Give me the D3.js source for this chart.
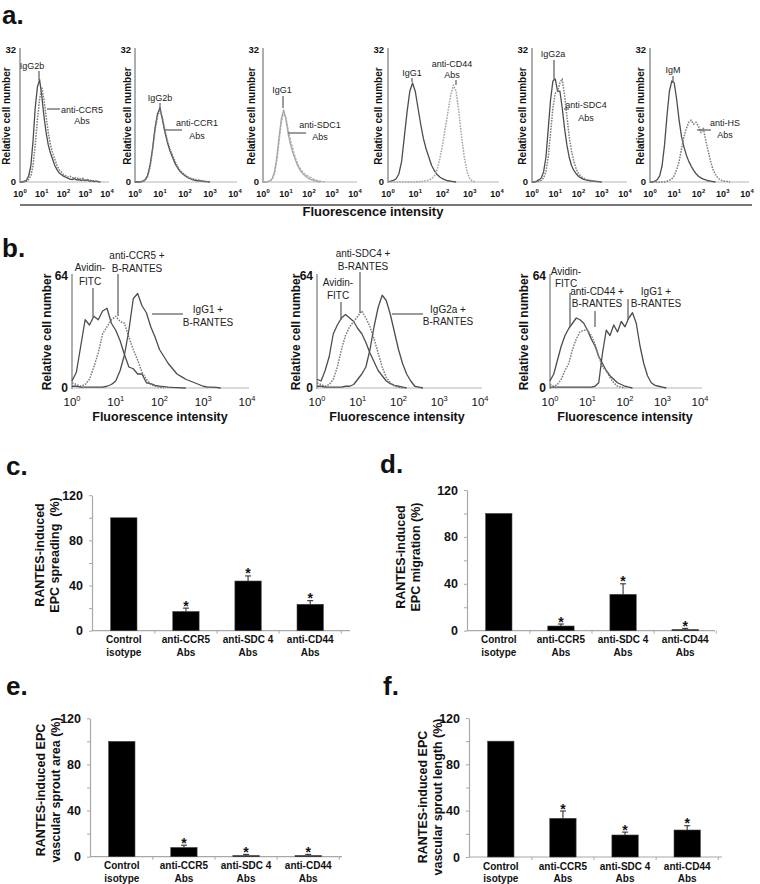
<!DOCTYPE html>
<html><head><meta charset="utf-8">
<script src="https://cdn.jsdelivr.net/npm/d3@7"></script>
<style>
body{margin:0;background:#fff}
svg{display:block;font-family:Arial,"Liberation Sans",Helvetica,sans-serif}
</style>
</head><body>
<svg id="fig" width="760" height="884"></svg>
<script>
// ---------- DATA ----------
// log10 fluorescence bins (10^0 .. 10^4)
const logBins = [0,0.1,0.2,0.3,0.4,0.5,0.6,0.7,0.8,0.9,1,1.1,1.2,1.3,1.4,1.5,1.6,1.7,1.8,1.9,2,2.1,2.2,2.3,2.4,2.5,2.6,2.7,2.8,2.9,3,3.1,3.2,3.3,3.4,3.5,3.6,3.7,3.8,3.9,4];
const decadeTicks = [0,1,2,3,4];

// panel a: relative cell number (max 32)
const a1Iso = [0,0,0.2,0.4,1.5,4,10,18,23,24.8,21,16,12,9,7,5.5,4,3,2.2,1.8,1.4,1.2,0.9,0.7,0.6,0.8,0.5,0.6,0.4,0.5,0.3,0.5,0.2,0.3,0.1,0.2,0.1,0];
const a1Ab  = [0,0,0,0.2,0.6,1.5,4,9,15,20,23,20,16,12,9,7,5.5,4,3,2.4,1.8,1.5,1.2,1.4,1,1.2,0.8,1,0.7,0.9,0.5,0.6,0.4,0.3,0.3,0.2,0.1,0];
const a2Iso = [0,0,0,0.2,0.5,1.5,4,8,13,16.5,18,15,12,9.5,7.5,6,4.5,3.5,2.6,2,1.5,1.1,0.8,0.6,0.4,0.3,0.3,0.2,0.1,0.1,0];
const a2Ab  = [0,0,0,0.1,0.4,1.2,3.5,7.5,12.5,16,17.5,15.5,12.5,10,8,6.5,5,3.8,2.8,2.2,1.7,1.3,1,0.8,0.6,0.5,0.4,0.3,0.2,0.1,0];
const a3Iso = [0,0,0.1,0.3,0.8,2.5,6,11,15.5,17.5,15,11.5,9,7,5.5,4,3,2.2,1.6,1.2,0.8,0.6,0.4,0.2,0.1,0];
const a3Ab  = [0,0,0.1,0.2,0.6,2,5,10,14.5,17,15.5,12.5,10,8,6,4.5,3.4,2.6,2,1.6,1.3,1,0.7,0.5,0.3,0.2,0.1,0];
const a4Iso = [0,0.2,0.4,0.8,2,5,11,17,22,24,22,18,14,10.5,8,6,4,2.8,1.8,1.2,0.8,0.5,0.3,0.2,0.1,0];
const a4Ab  = [0,0,0,0,0,0,0,0,0,0,0,0.1,0.1,0.2,0.3,0.5,0.8,1.5,3,5.5,9,13,17,21,23.5,22,17,11,6,2.5,0.8,0.2,0];
const a5Iso = [0,0,0.2,0.5,1,2.5,6,13,20,24.5,25,22,22,18,13,9,6,4,2.8,2,1.4,1,0.7,0.5,0.4,0.3,0.2,0.2,0.1,0.1,0];
const a5Ab  = [0,0,0,0.2,0.4,1,2.5,6,12,18,21.5,22,24,25,21,16,11,7.5,5,3.2,2,1.4,1,0.7,0.5,0.4,0.3,0.2,0.1,0.1,0];
const a6Iso = [0,0,0.2,0.6,1.5,4,9,16,22,24.5,24,20,15,11,8.5,6.5,5,3.8,2.8,2,1.4,1,0.7,0.5,0.3,0.2,0.1,0];
const a6Ab  = [0,0,0,0,0,0,0,0.2,0.4,0.8,1.5,3,5,8,11,13,14.5,15,14,14.5,13.5,12,13,10,7.5,5,3,1.8,1,0.5,0.3,0.2,0.1,0];

// panel b: relative cell number (max 64)
const b1Avidin = [4,9,24,39,36,41,39,44,45.6,37,33,27,19,12,11,8,8,3,2.5,1.5,1,0.8,0.5,0.3,0.2,0.1,0];
const b1Ab     = [3,2,1,2,5,12,20,31,35,39,41,38,37,29,22,16,9,5,2,1,0.5,0];
const b1IgG    = [1,1,0.5,0.5,0.5,0.5,0.5,0.5,1,2,4,10,19,33,51,54,47,43,35,29,22,18,14,11,8,6.5,5,4,3,2,1,0.5,0.5,0.3,0];
const b2Avidin = [5,4,10,18,31,36,40,42,40,38,34,31,26,20,15,10,7,4,2.5,1.5,1,0.5,0];
const b2Ab     = [3,2,1,2,5,12,22,30,35,38,41,44,40,35,28,20,12,6,3,1,0.5,0];
const b2IgG    = [1,1,0.5,0.5,0.5,0.5,0.5,1,1,2,5,8,12,22,35,46,53,50,42,32,22,14,8,4,1,0.5,0];
const b3Avidin = [4,8,16,24,30,34,37,40,39,37,33,28,24,18,14,10,7,5,3,2,1,0.5,0];
const b3Ab     = [2,1,2,5,10,14,22,28,32,33,33,30,25,18,12,10,6,3,1,0.5,0];
const b3IgG    = [0.5,0.5,0.5,0.5,0.5,0.5,0.5,0.5,0.5,0.5,0.5,0.5,1,3,20,33,30,36,32,38,35,40,43,37,24,14,7,3,1.5,1,0.5,0];

// panels c-f
const catLine1 = ["Control","anti-CCR5","anti-SDC 4","anti-CD44"];
const catLine2 = ["isotype","Abs","Abs","Abs"];
const barTicks = [0,20,40,60,80,100,120];
const barTickLabels = [0,40,80,120];
const spreading    = [100,17,44,23.4];
const spreadingErr = [0,3,4.5,3.2];
const migration    = [100,4,31,1];
const migrationErr = [0,1.7,9,1];
const sproutArea   = [100,8,1,1];
const sproutAreaErr= [0,2,1,1];
const sproutLen    = [100,33.4,19,23.3];
const sproutLenErr = [0,6.3,2.5,3.7];

// ---------- DRAWING ----------
const svg = d3.select("#fig");
const FONT = 'Arial,"Liberation Sans",Helvetica,sans-serif';

function panelLabel(t,x,y){
  svg.append("text").attr("x",x).attr("y",y).attr("font-size",26).attr("font-weight","bold").attr("fill","#111").text(t);
}

function multiText(g, lines, x, y, lh, size, weight, anchor){
  const t = g.append("text").attr("x",x).attr("y",y).attr("font-size",size)
    .attr("font-weight",weight||"normal").attr("text-anchor",anchor||"middle").attr("fill","#222");
  lines.forEach((l,i)=>t.append("tspan").attr("x",x).attr("dy", i===0?0:lh).text(l));
  return t;
}

function histPanel(cfg){
  const g = svg.append("g");
  const x = d3.scaleLinear().domain([0,4]).range([cfg.x0,cfg.x4]);
  const y = d3.scaleLinear().domain([0,cfg.ymax]).range([cfg.yBot,cfg.yTop]);
  g.append("line").attr("x1",cfg.x0).attr("x2",cfg.x4+2).attr("y1",cfg.yBot).attr("y2",cfg.yBot)
    .attr("stroke","#b5b5b5").attr("stroke-width",1.2);
  g.append("line").attr("x1",cfg.x0).attr("x2",cfg.x0).attr("y1",cfg.yTop-2).attr("y2",cfg.yBot+1)
    .attr("stroke","#9a9a9a").attr("stroke-width",1.6);
  const line = d3.line().x(d=>x(d[0])).y(d=>y(d[1]));
  cfg.curves.forEach(c=>{
    const n = Math.min(c.values.length, logBins.length);
    const pts = [];
    for(let i=0;i<n;i++) pts.push([logBins[i], c.values[i]]);
    g.append("path").datum(pts).attr("d",line).attr("fill","none")
      .attr("stroke",c.color).attr("stroke-width",c.width||1.3)
      .attr("stroke-dasharray",c.dash||null).attr("stroke-linejoin","round");
  });
  g.append("text").attr("x",cfg.x0-4).attr("y",y(cfg.ymax)+cfg.yLabSize*0.35).attr("text-anchor","end")
    .attr("font-size",cfg.yLabSize).attr("font-weight","bold").attr("fill","#111").text(cfg.ymax);
  g.append("text").attr("x",cfg.x0-4).attr("y",y(0)+cfg.yLabSize*0.35).attr("text-anchor","end")
    .attr("font-size",cfg.yLabSize).attr("font-weight","bold").attr("fill","#111").text(0);
  decadeTicks.forEach(t=>{
    const tx = g.append("text").attr("x",x(t)).attr("y",cfg.tickY).attr("text-anchor","middle")
      .attr("font-size",cfg.tickSize).attr("font-weight",cfg.tickWeight).attr("fill","#111");
    tx.append("tspan").text("10");
    tx.append("tspan").attr("dy",-cfg.tickSize*0.45).attr("font-size",cfg.tickSize*0.65).text(t);
  });
  g.append("text").attr("transform",`translate(${cfg.titleX},${(cfg.yTop+cfg.yBot)/2}) rotate(-90)`)
    .attr("text-anchor","middle").attr("font-size",cfg.titleSize).attr("font-weight","bold").attr("fill","#111")
    .text("Relative cell number");
  if(cfg.xTitle){
    g.append("text").attr("x",cfg.xTitleX).attr("y",cfg.xTitleY).attr("text-anchor","middle")
      .attr("font-size",12.5).attr("font-weight","bold").attr("fill","#111").text("Fluorescence intensity");
  }
  (cfg.notes||[]).forEach(nt=>{
    multiText(g, nt.t, nt.x, nt.y, nt.lh||cfg.noteLH, cfg.noteSize, "normal", nt.anchor||"middle");
    if(nt.l) g.append("line").attr("x1",nt.l[0]).attr("y1",nt.l[1]).attr("x2",nt.l[2]).attr("y2",nt.l[3])
      .attr("stroke","#666").attr("stroke-width",1.3);
  });
}

const SOLID = "#4d4d4d", DOT = "#7d7d7d", LIGHT = "#a9a9a9";
const dotDash = "1.6,1.2";

// ---- Panel a ----
panelLabel("a.",2,24);
const aCommon = {yTop:50,yBot:182,ymax:32,yLabSize:9.5,tickY:197,tickSize:9,tickWeight:"bold",titleSize:10,noteSize:9,noteLH:12};
const aPlots = [
  {x0:20,x4:107,titleX:10,curves:[{values:a1Iso,color:SOLID},{values:a1Ab,color:DOT,dash:dotDash,width:1.5}],
   notes:[{t:["IgG2b"],x:32,y:69,l:[39,71,39,80]},{t:["anti-CCR5","Abs"],x:82,y:113,lh:11,l:[47,109,60,109]}]},
  {x0:135,x4:235,titleX:131,curves:[{values:a2Iso,color:SOLID},{values:a2Ab,color:DOT,dash:dotDash,width:1.5}],
   notes:[{t:["IgG2b"],x:160,y:101,l:[160,103,160,110]},{t:["anti-CCR1","Abs"],x:197,y:126,lh:13,l:[165,130,182,130]}]},
  {x0:263,x4:355,titleX:255,curves:[{values:a3Iso,color:LIGHT},{values:a3Ab,color:LIGHT,dash:"2.5,1",width:1.3}],
   notes:[{t:["IgG1"],x:282,y:93,l:[283,96,283,108]},{t:["anti-SDC1","Abs"],x:320,y:128,lh:12,l:[288,133,306,133]}]},
  {x0:388,x4:497,titleX:382,curves:[{values:a4Iso,color:SOLID},{values:a4Ab,color:LIGHT,dash:dotDash,width:1.6}],
   notes:[{t:["IgG1"],x:412,y:76,l:[412,78,412,82]},{t:["anti-CD44","Abs"],x:452,y:67,lh:11,l:[456,80,456,85]}]},
  {x0:532,x4:625,titleX:526,curves:[{values:a5Iso,color:SOLID},{values:a5Ab,color:DOT,dash:dotDash,width:1.5}],
   notes:[{t:["IgG2a"],x:553,y:57,l:[554,60,554,80]},{t:["anti-SDC4","Abs"],x:586,y:108,lh:13,l:[564,109,569,109]}]},
  {x0:650,x4:747,titleX:644,curves:[{values:a6Iso,color:SOLID},{values:a6Ab,color:DOT,dash:dotDash,width:1.5}],
   notes:[{t:["IgM"],x:673,y:73,l:[673,76,673,83]},{t:["anti-HS","Abs"],x:725,y:126,lh:12,l:[697,130,711,130]}]}
];
aPlots.forEach(p=>histPanel(Object.assign({},aCommon,p)));
svg.append("line").attr("x1",20).attr("x2",752).attr("y1",205).attr("y2",205).attr("stroke","#777").attr("stroke-width",2);
svg.append("text").attr("x",373).attr("y",216).attr("text-anchor","middle").attr("font-size",13)
  .attr("font-weight","bold").attr("fill","#111").text("Fluorescence intensity");

// ---- Panel b ----
panelLabel("b.",2,257);
const bCommon = {yTop:276,yBot:388,ymax:64,yLabSize:12,tickY:406,tickSize:11.5,tickWeight:"normal",titleSize:12,noteSize:10,noteLH:12.5,xTitle:true,xTitleY:421};
const bPlots = [
  {x0:72,x4:247,titleX:51,xTitleX:160,
   curves:[{values:b1Avidin,color:SOLID},{values:b1Ab,color:DOT,dash:dotDash,width:1.5},{values:b1IgG,color:SOLID}],
   notes:[{t:["Avidin-","FITC"],x:90,y:271,lh:14,l:[93,288,93,317]},
          {t:["anti-CCR5 +","B-RANTES"],x:137,y:259,l:[118,274,118,316]},
          {t:["IgG1 +","B-RANTES"],x:208,y:313,l:[152,314,183,314]}]},
  {x0:317,x4:480,titleX:300,xTitleX:397,
   curves:[{values:b2Avidin,color:SOLID},{values:b2Ab,color:DOT,dash:dotDash,width:1.5},{values:b2IgG,color:SOLID}],
   notes:[{t:["anti-SDC4 +","B-RANTES"],x:363,y:257,l:[360,272,360,313]},
          {t:["Avidin-","FITC"],x:338,y:286,l:[341,302,341,320]},
          {t:["IgG2a +","B-RANTES"],x:448,y:313,lh:11.5,l:[392,314,423,314]}]},
  {x0:550,x4:700,titleX:528,xTitleX:625,
   curves:[{values:b3Avidin,color:SOLID},{values:b3Ab,color:DOT,dash:dotDash,width:1.5},{values:b3IgG,color:SOLID}],
   notes:[{t:["Avidin-","FITC"],x:566,y:275,lh:12,l:[570,293,570,327]},
          {t:["anti-CD44 +","B-RANTES"],x:597,y:295,lh:12,l:[595,311,595,327]},
          {t:["IgG1 +","B-RANTES"],x:656,y:295,lh:12,l:[628,299,628,320]}]}
];
bPlots.forEach(p=>histPanel(Object.assign({},bCommon,p)));

// ---- Bar panels ----
function barPanel(cfg, means, errs){
  const g = svg.append("g");
  const x = d3.scaleBand().domain(catLine1).range([cfg.ax, cfg.ax+250]).paddingInner(0.576).paddingOuter(0.3);
  const y = d3.scaleLinear().domain([0,120]).range([cfg.y0, cfg.y120]);
  g.append("line").attr("x1",cfg.ax).attr("x2",cfg.axEnd).attr("y1",y(0)).attr("y2",y(0)).attr("stroke","#a8a8a8").attr("stroke-width",1.2);
  const step = x.step();
  for(let i=1;i<=4;i++){
    const tx = x(catLine1[0]) + x.bandwidth()/2 + step*(i-0.5);
    g.append("line").attr("x1",tx).attr("x2",tx).attr("y1",y(0)).attr("y2",y(0)+3).attr("stroke","#a8a8a8");
  }
  const ya = g.append("g").attr("transform",`translate(${cfg.ax},0)`)
    .call(d3.axisLeft(y).tickValues(barTicks).tickSizeInner(3).tickSizeOuter(0).tickPadding(6)
      .tickFormat(d=>barTickLabels.includes(d)?d:""));
  ya.attr("font-family",FONT);
  ya.select(".domain").attr("stroke","#a8a8a8").attr("stroke-width",1.2);
  ya.selectAll(".tick line").attr("stroke","#a8a8a8");
  ya.selectAll(".tick text").attr("font-size",12.5).attr("font-weight","bold").attr("fill","#111");
  g.selectAll("rect.bar").data(catLine1).enter().append("rect")
    .attr("x",d=>x(d)).attr("width",x.bandwidth())
    .attr("y",(d,i)=>y(means[i])).attr("height",(d,i)=>y(0)-y(means[i]))
    .attr("fill","#000").attr("stroke","#444").attr("stroke-width",0.6);
  catLine1.forEach((d,i)=>{
    const cx = x(d)+x.bandwidth()/2;
    const top = y(means[i]+errs[i]);
    if(errs[i]>0){
      g.append("line").attr("x1",cx).attr("x2",cx).attr("y1",y(means[i])).attr("y2",top).attr("stroke","#333").attr("stroke-width",1.1);
      g.append("line").attr("x1",cx-3).attr("x2",cx+3).attr("y1",top).attr("y2",top).attr("stroke","#333").attr("stroke-width",1.1);
    }
    if(i>0){
      g.append("text").attr("x",cx).attr("y",top+2.5).attr("text-anchor","middle").attr("font-size",14)
        .attr("font-weight","bold").attr("fill","#111").text("*");
    }
    g.append("text").attr("x",cx).attr("y",y(0)+12.5).attr("text-anchor","middle").attr("font-size",10)
      .attr("font-weight","bold").attr("fill","#111").text(catLine1[i]);
    g.append("text").attr("x",cx).attr("y",y(0)+25).attr("text-anchor","middle").attr("font-size",10)
      .attr("font-weight","bold").attr("fill","#111").text(catLine2[i]);
  });
  cfg.title.forEach((t,i)=>{
    g.append("text").attr("transform",`translate(${cfg.titleX[i]},${cfg.titleY}) rotate(-90)`)
      .attr("text-anchor","middle").attr("font-size",12.5).attr("font-weight","bold").attr("fill","#111").text(t);
  });
}

panelLabel("c.",6,475);
barPanel({ax:92,axEnd:350,y0:630.7,y120:495.2,title:["RANTES-induced","EPC spreading\u00a0 (%)"],titleX:[44,59],titleY:555},spreading,spreadingErr);
panelLabel("d.",380,473);
barPanel({ax:467,axEnd:715,y0:630.7,y120:490,title:["RANTES-induced","EPC migration (%)"],titleX:[405,420],titleY:557},migration,migrationErr);
panelLabel("e.",6,695);
barPanel({ax:90,axEnd:342,y0:856.7,y120:718.3,title:["RANTES-induced EPC","vascular sprout area (%)"],titleX:[45,60],titleY:790},sproutArea,sproutAreaErr);
panelLabel("f.",383,695);
barPanel({ax:469,axEnd:722,y0:857,y120:718,title:["RANTES-induced EPC","vascular sprout length (%)"],titleX:[427,442],titleY:797},sproutLen,sproutLenErr);
</script>
</body></html>
